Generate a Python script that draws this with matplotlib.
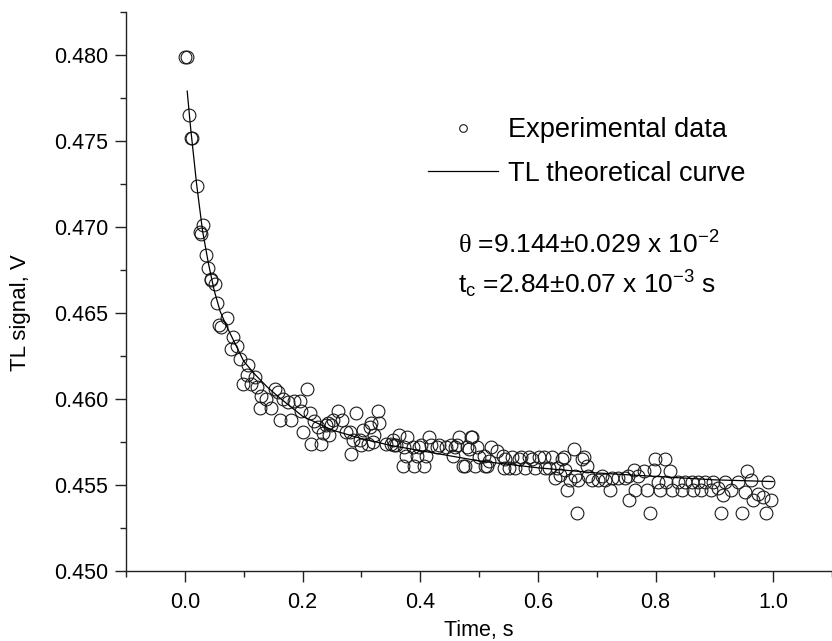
"""TL signal decay: experimental points and theoretical fit."""
import matplotlib
matplotlib.use("agg")
import matplotlib.pyplot as plt
from matplotlib.ticker import MultipleLocator

plt.rcParams["font.family"] = ["Liberation Sans", "DejaVu Sans"]
plt.rcParams["mathtext.fontset"] = "custom"
plt.rcParams["mathtext.rm"] = "Liberation Serif"
plt.rcParams["mathtext.sf"] = "Liberation Sans"
plt.rcParams["mathtext.it"] = "Liberation Sans:italic"

# ---------------------------------------------------------------------------
# Data
# ---------------------------------------------------------------------------
time_s = [
    0.000, 0.004, 0.007, 0.011, 0.013, 0.020, 0.025, 0.027, 0.031, 0.036,
    0.040, 0.044, 0.045, 0.051, 0.055, 0.058, 0.061, 0.072, 0.079, 0.082,
    0.088, 0.093, 0.099, 0.105, 0.107, 0.113, 0.119, 0.122, 0.127, 0.130,
    0.138, 0.147, 0.153, 0.158, 0.161, 0.167, 0.175, 0.180, 0.186, 0.195,
    0.198, 0.201, 0.207, 0.212, 0.215, 0.220, 0.226, 0.232, 0.234, 0.240,
    0.243, 0.245, 0.249, 0.251, 0.260, 0.267, 0.274, 0.280, 0.283, 0.285,
    0.291, 0.297, 0.300, 0.302, 0.311, 0.314, 0.316, 0.319, 0.322, 0.328,
    0.330, 0.342, 0.350, 0.353, 0.356, 0.359, 0.364, 0.370, 0.373, 0.376,
    0.378, 0.387, 0.390, 0.395, 0.398, 0.401, 0.407, 0.410, 0.415, 0.418,
    0.429, 0.432, 0.444, 0.452, 0.455, 0.460, 0.463, 0.466, 0.472, 0.477,
    0.480, 0.483, 0.486, 0.488, 0.494, 0.496, 0.500, 0.508, 0.511, 0.514,
    0.517, 0.520, 0.531, 0.540, 0.542, 0.545, 0.551, 0.556, 0.562, 0.568,
    0.571, 0.579, 0.585, 0.590, 0.596, 0.602, 0.610, 0.613, 0.619, 0.624,
    0.630, 0.633, 0.638, 0.641, 0.644, 0.647, 0.650, 0.655, 0.661, 0.664,
    0.667, 0.669, 0.675, 0.678, 0.684, 0.686, 0.692, 0.703, 0.709, 0.715,
    0.723, 0.726, 0.737, 0.749, 0.754, 0.755, 0.763, 0.765, 0.771, 0.780,
    0.785, 0.791, 0.797, 0.799, 0.805, 0.808, 0.816, 0.818, 0.825, 0.828,
    0.839, 0.845, 0.850, 0.862, 0.864, 0.873, 0.878, 0.884, 0.895, 0.897,
    0.907, 0.912, 0.915, 0.918, 0.929, 0.941, 0.947, 0.952, 0.956, 0.963,
    0.966, 0.975, 0.983, 0.987, 0.992, 0.997,
]
signal_v = [
    0.4799, 0.4799, 0.4765, 0.4752, 0.4752, 0.4724, 0.4697, 0.4696, 0.4701, 0.4684,
    0.4676, 0.4669, 0.4670, 0.4667, 0.4656, 0.4643, 0.4642, 0.4647, 0.4629, 0.4636,
    0.4631, 0.4623, 0.4609, 0.4614, 0.4620, 0.4609, 0.4613, 0.4607, 0.4595, 0.4602,
    0.4600, 0.4595, 0.4606, 0.4604, 0.4588, 0.4600, 0.4598, 0.4588, 0.4599, 0.4599,
    0.4593, 0.4581, 0.4606, 0.4592, 0.4574, 0.4587, 0.4584, 0.4574, 0.4580, 0.4585,
    0.4586, 0.4579, 0.4585, 0.4588, 0.4593, 0.4588, 0.4581, 0.4581, 0.4568, 0.4576,
    0.4592, 0.4576, 0.4573, 0.4582, 0.4574, 0.4584, 0.4586, 0.4575, 0.4579, 0.4593,
    0.4586, 0.4574, 0.4574, 0.4576, 0.4573, 0.4573, 0.4579, 0.4561, 0.4572, 0.4567,
    0.4578, 0.4572, 0.4561, 0.4567, 0.4572, 0.4573, 0.4561, 0.4567, 0.4578, 0.4573,
    0.4572, 0.4573, 0.4572, 0.4573, 0.4567, 0.4572, 0.4573, 0.4578, 0.4561, 0.4561,
    0.4572, 0.4571, 0.4578, 0.4578, 0.4561, 0.4572, 0.4566, 0.4567, 0.4561, 0.4561,
    0.4564, 0.4572, 0.4570, 0.4567, 0.4560, 0.4565, 0.4560, 0.4566, 0.4560, 0.4565,
    0.4566, 0.4560, 0.4566, 0.4565, 0.4560, 0.4566, 0.4566, 0.4560, 0.4560, 0.4566,
    0.4554, 0.4560, 0.4556, 0.4565, 0.4566, 0.4559, 0.4547, 0.4553, 0.4571, 0.4555,
    0.4534, 0.4553, 0.4565, 0.4566, 0.4561, 0.4555, 0.4553, 0.4553, 0.4555, 0.4553,
    0.4547, 0.4554, 0.4554, 0.4554, 0.4555, 0.4541, 0.4559, 0.4547, 0.4555, 0.4558,
    0.4547, 0.4534, 0.4559, 0.4565, 0.4552, 0.4547, 0.4565, 0.4552, 0.4558, 0.4547,
    0.4552, 0.4547, 0.4552, 0.4552, 0.4547, 0.4552, 0.4547, 0.4552, 0.4547, 0.4552,
    0.4548, 0.4534, 0.4544, 0.4552, 0.4547, 0.4552, 0.4534, 0.4546, 0.4558, 0.4553,
    0.4541, 0.4545, 0.4543, 0.4534, 0.4552, 0.4541,
]

curve_t = [0.004, 0.010, 0.020, 0.030, 0.040, 0.050, 0.060, 0.070, 0.080, 0.100,
           0.120, 0.140, 0.160, 0.200, 0.250, 0.300, 0.350, 0.400, 0.500, 0.600,
           0.700, 0.800, 0.900, 1.000]
curve_v = [0.4779, 0.4757, 0.4725, 0.4698, 0.4679, 0.4663, 0.4651, 0.4643, 0.4636, 0.4622,
           0.4614, 0.4607, 0.4601, 0.4590, 0.4582, 0.4577, 0.4573, 0.4570, 0.4564, 0.4560,
           0.4557, 0.4555, 0.4553, 0.4552]

x_ticks = [0.0, 0.2, 0.4, 0.6, 0.8, 1.0]
y_ticks = [0.450, 0.455, 0.460, 0.465, 0.470, 0.475, 0.480]

# ---------------------------------------------------------------------------
# Figure
# ---------------------------------------------------------------------------
W, H = 832, 641
fig = plt.figure(figsize=(W / 100, H / 100), dpi=100)
ax = fig.add_axes([126 / W, 1 - 571 / H, 1 - 126 / W, (571 - 12) / H])

ax.plot(time_s, signal_v, linestyle="none", marker="o", markersize=9.2,
        markerfacecolor="none", markeredgecolor="#1a1a1a", markeredgewidth=0.8,
        label="Experimental data")
ax.plot(curve_t, curve_v, color="black", linewidth=0.9,
        label="TL theoretical curve")

ax.set_xlim(-0.1, 1.1)
ax.set_ylim(0.450, 0.4825)
ax.set_xticks(x_ticks)
ax.set_yticks(y_ticks)
ax.set_xticklabels([f"{v:.1f}" for v in x_ticks])
ax.set_yticklabels([f"{v:.3f}" for v in y_ticks])
ax.xaxis.set_minor_locator(MultipleLocator(0.1))
ax.yaxis.set_minor_locator(MultipleLocator(0.0025))

for side in ("top", "right"):
    ax.spines[side].set_visible(False)
for side in ("left", "bottom"):
    ax.spines[side].set_linewidth(1.0)
    ax.spines[side].set_color("#222222")

ax.tick_params(which="major", direction="out", length=8, width=1.0,
               labelsize=15.5, pad=5, colors="#222222")
ax.tick_params(which="minor", direction="out", length=4.5, width=1.0,
               colors="#222222")
ax.tick_params(axis="x", which="major", pad=7)
ax.tick_params(which="both", labelcolor="black")

ax.set_xlabel("Time, s", fontsize=15.5, labelpad=5)
ax.set_ylabel("TL signal, V", fontsize=16)
ax.yaxis.set_label_coords(-0.135, 0.465, transform=ax.get_yaxis_transform())

ax.legend(loc="upper left", bbox_to_anchor=(428 / W, 1 - 117 / H),
          bbox_transform=fig.transFigure, frameon=False, fontsize=19.5,
          handlelength=2.6, handletextpad=0.36, borderpad=0,
          borderaxespad=0, labelspacing=0.65, markerscale=0.6)

ax.text(458 / W, 1 - 245 / H,
        r"$\mathrm{\theta}$ =9.144±0.029 x 10$^{\mathsf{-2}}$",
        transform=fig.transFigure, fontsize=19, va="center", ha="left")
ax.text(458 / W, 1 - 284 / H,
        r"t$_{\mathsf{c}}$ =2.84±0.07 x 10$^{\mathsf{-3}}$ s",
        transform=fig.transFigure, fontsize=19, va="center", ha="left")

fig.savefig("out.png", dpi=100)
